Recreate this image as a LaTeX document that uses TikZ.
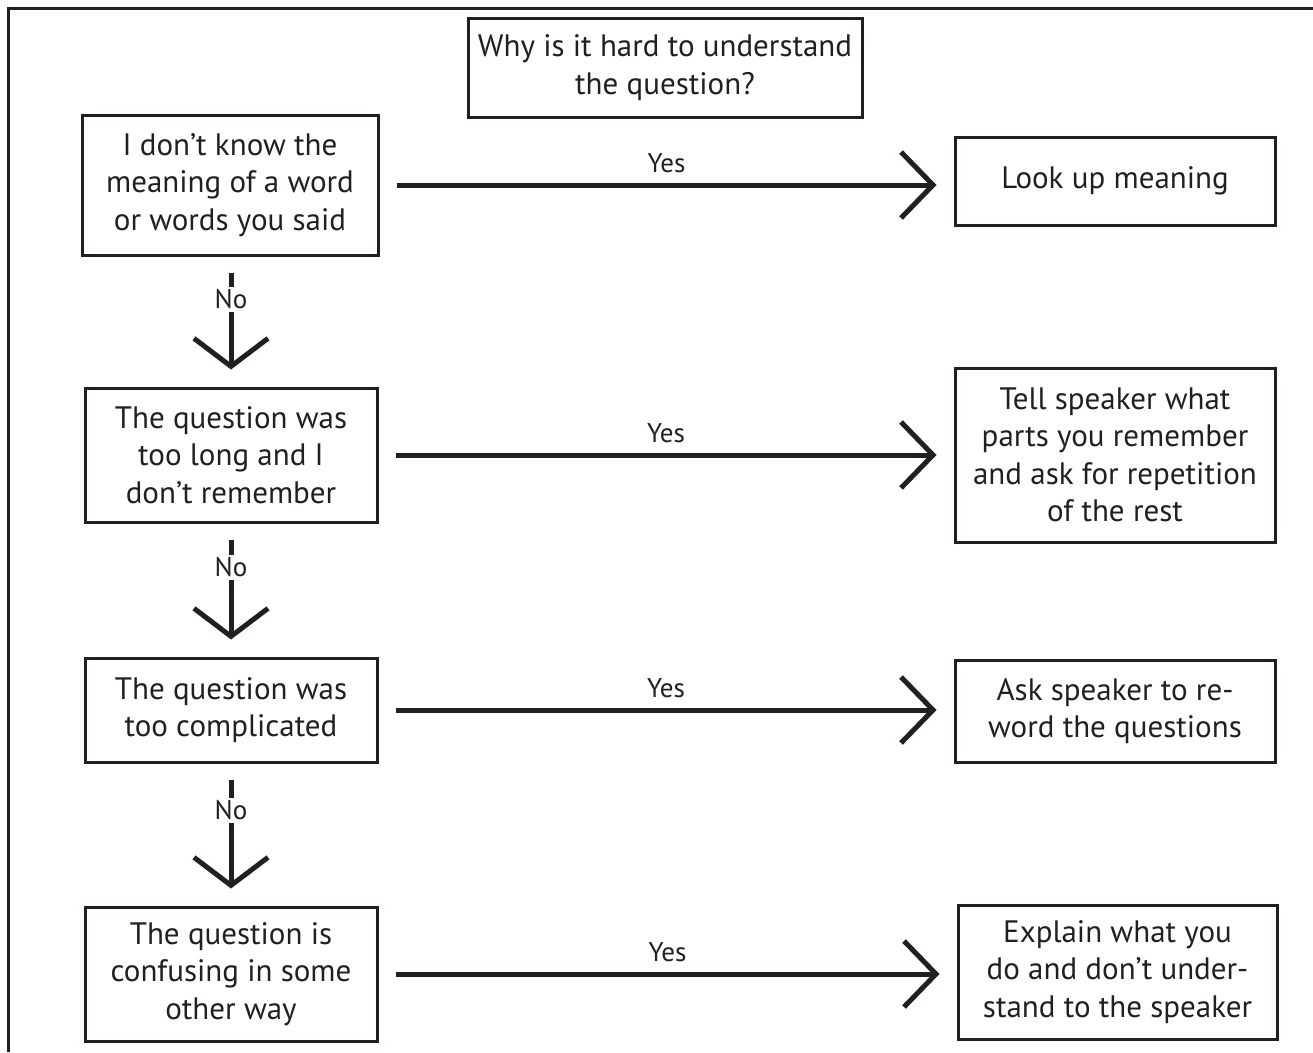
\documentclass[tikz,border=0pt]{standalone}
\usepackage{fontspec}
\setmainfont{PT Sans}
\usetikzlibrary{arrows.meta}
\definecolor{ink}{HTML}{231F20}

\begin{document}
\begin{tikzpicture}[x=1pt,y=-1pt,
  box/.style={draw=ink,line width=3pt,text=ink,align=center,inner sep=0pt,
    font=\fontsize{31}{37.5}\selectfont},
  yesarrow/.style={draw=ink,line width=5pt,shorten <=17pt,shorten >=17pt,
    -{Straight Barb[sharp,length=32pt,width=66pt]}},
  noarrow/.style={draw=ink,line width=5pt,shorten <=16pt,shorten >=17pt,
    -{Straight Barb[sharp,length=28pt,width=74pt]}},
  lab/.style={text=ink,font=\fontsize{27}{30}\selectfont,inner sep=0pt}]
\useasboundingbox (0,0) rectangle (1313,1052);
\draw[ink,line width=3pt] (1313,8) -- (8,8) -- (8,1052);

\node[box,minimum width=394pt,minimum height=99pt](top) at (665,67.5){Why is it hard to understand\\the question?};

% questions
\node[box,minimum width=296pt,minimum height=140pt](q1) at (230,185){I don’t know the\\meaning of a word\\or words you said};
\node[box,minimum width=292pt,minimum height=134pt](q2) at (231,455){The question was\\too long and I\\don’t remember};
\node[box,minimum width=292pt,minimum height=104pt](q3) at (231,710){The question was\\too complicated};
\node[box,minimum width=292pt,minimum height=134pt](q4) at (231,974){The question is\\confusing in some\\other way};

% answers
\node[box,minimum width=320pt,minimum height=88pt](a1) at (1115,181){Look up meaning};
\node[box,minimum width=320pt,minimum height=174pt](a2) at (1115,455){Tell speaker what\\parts you remember\\and ask for repetition\\of the rest};
\node[box,minimum width=320pt,minimum height=102pt](a3) at (1115,711){Ask speaker to re-\\word the questions};
\node[box,minimum width=319pt,minimum height=134pt](a4) at (1117.5,972){Explain what you\\do and don’t under-\\stand to the speaker};

\draw[yesarrow] (q1.east) -- (q1.east -| a1.west) node[lab,midway,above=10pt]{Yes};
\draw[yesarrow] (q2.east) -- (q2.east -| a2.west) node[lab,midway,above=10pt]{Yes};
\draw[yesarrow] (q3.east) -- (q3.east -| a3.west) node[lab,midway,above=10pt]{Yes};
\draw[yesarrow] (q4.east) -- (q4.east -| a4.west) node[lab,midway,above=10pt]{Yes};

\draw[noarrow] (q2 |- q1.south) -- (q2.north) node[lab,pos=0.33,fill=white,inner sep=3pt]{No};
\draw[noarrow] (q2.south) -- (q3.north) node[lab,pos=0.33,fill=white,inner sep=3pt]{No};
\draw[noarrow] (q3.south) -- (q4.north) node[lab,pos=0.33,fill=white,inner sep=3pt]{No};
\end{tikzpicture}
\end{document}
